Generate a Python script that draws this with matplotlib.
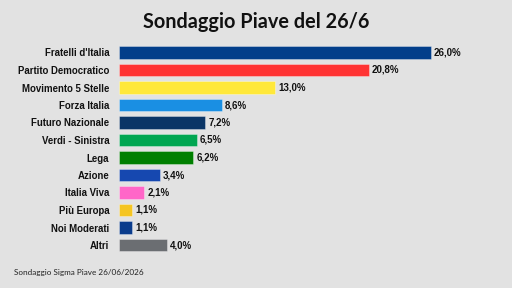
import matplotlib
matplotlib.use("Agg")
import matplotlib.pyplot as plt

parties = ["Fratelli d'Italia", "Partito Democratico", "Movimento 5 Stelle",
           "Forza Italia", "Futuro Nazionale", "Verdi - Sinistra", "Lega",
           "Azione", "Italia Viva", "Più Europa", "Noi Moderati", "Altri"]
values = [26.0, 20.8, 13.0, 8.6, 7.2, 6.5, 6.2, 3.4, 2.1, 1.1, 1.1, 4.0]
colors = ["#023e8a", "#ff3333", "#ffe83a", "#1a8fe3", "#0b3566", "#00a651",
          "#007f00", "#1648b0", "#ff66c8", "#f5c522", "#0a3c8c", "#6b6e72"]

bg = "#e2e2e2"
fig = plt.figure(figsize=(5.12, 2.88), dpi=100, facecolor=bg)
ax = fig.add_axes([119 / 512, 1 - 253.75 / 288, 381 / 512, 210 / 288])
ax.set_facecolor("none")

ypos = list(range(len(parties)))
ax.barh(ypos, values, height=0.72, color=colors, edgecolor="#ffffff60", linewidth=0.6)
for y, v in zip(ypos, values):
    ax.text(v + 0.25, y, ("%.1f%%" % v).replace(".", ","), va="center", ha="left",
            fontsize=7, fontweight="bold", family="Liberation Sans", color="#111111")

ax.set_xlim(0, 381 / 12)
ax.set_ylim(len(parties) - 0.5, -0.5)
ax.set_yticks(ypos)
ax.set_yticklabels(parties, fontsize=6.9, fontweight="bold", family="Liberation Sans", color="#111111")
ax.tick_params(axis="y", length=0, pad=7)
ax.set_xticks([])
for s in ax.spines.values():
    s.set_visible(False)

fig.text(0.5, 1 - 22.5 / 288, "Sondaggio Piave del 26/6", ha="center", va="center",
         fontsize=14.3, fontweight="bold", family="Lato", color="#111111")
fig.text(14 / 512, 1 - 273 / 288, "Sondaggio Sigma Piave 26/06/2026", ha="left", va="center",
         fontsize=5.9, family="Lato", color="#222222")

fig.savefig("out.png", dpi=100, facecolor=bg)
